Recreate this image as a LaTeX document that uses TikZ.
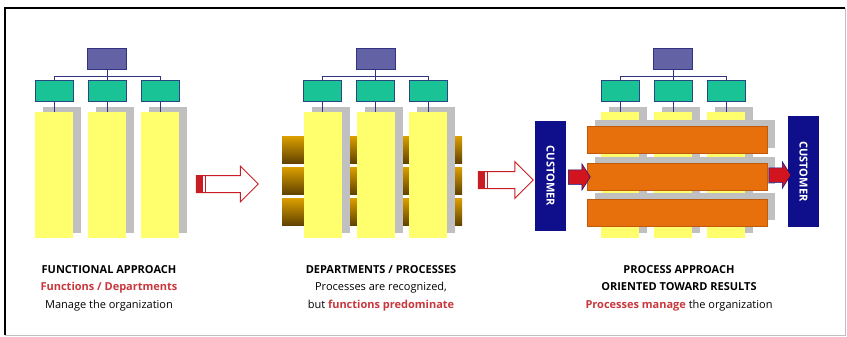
\documentclass[tikz,border=0pt]{standalone}
\usepackage{fontspec}
\setsansfont{Open Sans}
\usetikzlibrary{positioning,shapes.arrows,shadows}

\definecolor{bossfill}{RGB}{98,98,165}
\definecolor{bossline}{RGB}{50,50,130}
\definecolor{deptfill}{RGB}{25,195,150}
\definecolor{deptline}{RGB}{40,70,130}
\definecolor{colyellow}{RGB}{255,255,110}
\definecolor{shadowgray}{RGB}{192,192,192}
\definecolor{browntop}{RGB}{218,158,0}
\definecolor{brownbot}{RGB}{95,65,0}
\definecolor{flowfill}{RGB}{232,112,12}
\definecolor{flowline}{RGB}{190,90,10}
\definecolor{custblue}{RGB}{15,15,140}
\definecolor{arrowred}{RGB}{210,20,30}
\definecolor{arrowline}{RGB}{200,30,35}
\definecolor{capred}{RGB}{200,55,60}

\tikzstyle{boss} = [rectangle, draw=bossline, fill=bossfill, minimum width=39pt, minimum height=21pt, inner sep=0pt]
\tikzstyle{dept} = [rectangle, draw=deptline, fill=deptfill, minimum width=38pt, minimum height=21pt, inner sep=0pt]
\tikzstyle{column} = [rectangle, fill=colyellow, minimum width=38pt, minimum height=126pt, inner sep=0pt,
    drop shadow={shadow xshift=8pt, shadow yshift=5pt, fill=shadowgray, opacity=1}]
\tikzstyle{proc} = [rectangle, top color=browntop, bottom color=brownbot, minimum width=180pt, minimum height=27pt, inner sep=0pt]
\tikzstyle{flow} = [rectangle, draw=flowline, fill=flowfill, minimum width=180pt, minimum height=27pt, inner sep=0pt,
    drop shadow={shadow xshift=8pt, shadow yshift=6pt, fill=shadowgray, opacity=1}]
\tikzstyle{customer} = [rectangle, fill=custblue, text=white, rotate=-90, inner sep=0pt, minimum height=31pt,
    font=\sffamily\bfseries\fontsize{11}{12}\selectfont]
\tikzstyle{link} = [draw=bossline, line width=0.8pt]
\tikzstyle{turn} = [single arrow, draw=arrowline, fill=white, line width=1pt, inner xsep=0pt, inner ysep=8pt]
\tikzstyle{feed} = [single arrow, fill=arrowred, draw=custblue, line width=0.5pt, inner xsep=0pt, inner ysep=7pt,
    single arrow tip angle=115, minimum height=22pt, single arrow head extend=6pt]
\tikzstyle{caption} = [align=center, font=\sffamily\fontsize{11}{17.5}\selectfont]

\begin{document}
\begin{tikzpicture}[x=1pt,y=-1pt]
    \useasboundingbox (0,0) rectangle (847,337);

    % frame
    \draw [shadowgray, line width=0.8pt] (845,8) -- (845,335) -- (5,335);
    \draw [black, line width=2.5pt] (5,335) -- (5,8) -- (845,8);

    % functional approach
    \node (boss1) [boss] at (107,58.5) {};
    \node (dept1b) [dept, below=11pt of boss1] {};
    \node (dept1a) [dept, left=14.5pt of dept1b] {};
    \node (dept1c) [dept, right=14.5pt of dept1b] {};
    \node (col1a) [column, below=10pt of dept1a] {};
    \node (col1b) [column, below=10pt of dept1b] {};
    \node (col1c) [column, below=10pt of dept1c] {};

    \draw [link] (boss1.south) -- ++(0,7) -| (dept1a.north);
    \draw [link] (boss1.south) -- ++(0,7) -| (dept1c.north);
    \draw [link] (boss1) -- (dept1b);
    \draw [link] (dept1a) -- (col1a);
    \draw [link] (dept1b) -- (col1b);
    \draw [link] (dept1c) -- (col1c);

    \node (turn1) [turn, minimum height=62pt, single arrow head extend=9.5pt] at (223,184) {};
    \fill [arrowline] (turn1.tail) +(0,-8) rectangle +(7,8);
    \draw [arrowline, line width=1pt] (turn1.tail) +(9.5,-8) -- +(9.5,8);

    % departments / processes
    \node (proc2a) [proc] at (372,150) {};
    \node (proc2b) [proc] at (372,181) {};
    \node (proc2c) [proc] at (372,212) {};

    \node (boss2) [boss] at (375.5,58.5) {};
    \node (dept2b) [dept, below=11pt of boss2] {};
    \node (dept2a) [dept, left=14.5pt of dept2b] {};
    \node (dept2c) [dept, right=14.5pt of dept2b] {};
    \node (col2a) [column, below=10pt of dept2a] {};
    \node (col2b) [column, below=10pt of dept2b] {};
    \node (col2c) [column, below=10pt of dept2c] {};

    \draw [link] (boss2.south) -- ++(0,7) -| (dept2a.north);
    \draw [link] (boss2.south) -- ++(0,7) -| (dept2c.north);
    \draw [link] (boss2) -- (dept2b);
    \draw [link] (dept2a) -- (col2a);
    \draw [link] (dept2b) -- (col2b);
    \draw [link] (dept2c) -- (col2c);

    \node (turn2) [turn, minimum height=55pt, single arrow head extend=10pt] at (501.5,180) {};
    \fill [arrowline] (turn2.tail) +(0,-8) rectangle +(7,8);
    \draw [arrowline, line width=1pt] (turn2.tail) +(9.5,-8) -- +(9.5,8);

    % process approach
    \node (boss3) [boss] at (673,58.5) {};
    \node (dept3b) [dept, below=11pt of boss3] {};
    \node (dept3a) [dept, left=14.5pt of dept3b] {};
    \node (dept3c) [dept, right=14.5pt of dept3b] {};
    \node (col3a) [column, below=10pt of dept3a] {};
    \node (col3b) [column, below=10pt of dept3b] {};
    \node (col3c) [column, below=10pt of dept3c] {};

    \draw [link] (boss3.south) -- ++(0,7) -| (dept3a.north);
    \draw [link] (boss3.south) -- ++(0,7) -| (dept3c.north);
    \draw [link] (boss3) -- (dept3b);
    \draw [link] (dept3a) -- (col3a);
    \draw [link] (dept3b) -- (col3b);
    \draw [link] (dept3c) -- (col3c);

    \node (flow3a) [flow] at (677,140) {};
    \node (flow3b) [flow] at (677,176.5) {};
    \node (flow3c) [flow] at (677,212.5) {};

    \node (cust1) [customer, minimum width=110pt] at (550.5,176) {CUSTOMER};
    \node (cust2) [customer, minimum width=111pt] at (803.5,171.5) {CUSTOMER};

    \node (feed1) [feed] at (577,177) {};
    \node (feed2) [feed] at (777.5,175) {};

    % captions
    \node (cap1) [caption] at (109,288) {\textbf{FUNCTIONAL APPROACH}\\
        \textcolor{capred}{\textbf{Functions / Departments}}\\
        Manage the organization};
    \node (cap2) [caption] at (381,288) {\textbf{DEPARTMENTS / PROCESSES}\\
        Processes are recognized,\\
        but \textcolor{capred}{\textbf{functions predominate}}};
    \node (cap3) [caption] at (679,288) {\textbf{PROCESS APPROACH}\\
        \textbf{ORIENTED TOWARD RESULTS}\\
        \textcolor{capred}{\textbf{Processes manage}} the organization};
\end{tikzpicture}
\end{document}
